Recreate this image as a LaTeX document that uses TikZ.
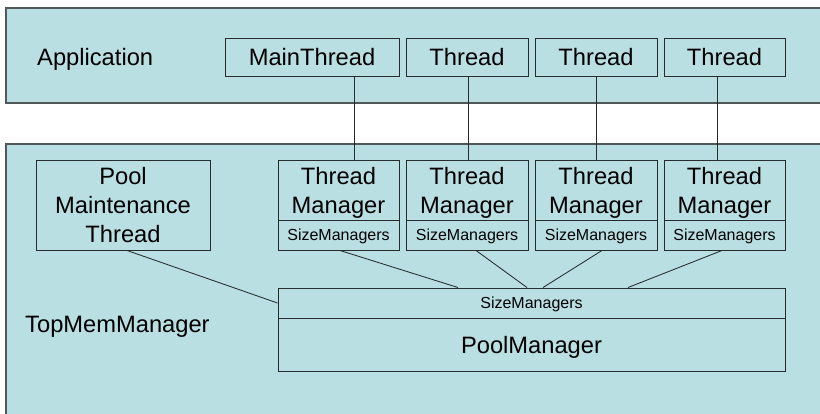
\documentclass[tikz,border=0pt]{standalone}
\usepackage{fontspec}
\setmainfont{Liberation Sans}
\usetikzlibrary{calc}
\definecolor{paneblue}{HTML}{B9DFE3}
\definecolor{paneedge}{HTML}{505858}
\definecolor{boxedge}{HTML}{262C2C}

\begin{document}
\begin{tikzpicture}[x=1pt,y=-1pt,
  big/.style={font=\fontsize{23.7}{29}\selectfont},
  small/.style={font=\fontsize{16}{19}\selectfont},
  pane/.style={draw=paneedge, fill=paneblue, line width=1.4pt},
  panelabel/.style={big, anchor=base west, inner sep=0pt},
  box/.style={rectangle, draw=boxedge, line width=0.95pt, inner sep=0pt,
              align=center, text depth=0pt},
  link/.style={draw=boxedge, line width=0.85pt}]
\useasboundingbox (0,0) rectangle (820,413);
\clip (0,0) rectangle (820,413);
\fill[white] (0,0) rectangle (820,413);

% the two layers
\draw[pane] (6,8) rectangle (845,103);
\draw[pane] (6,144) rectangle (845,445);
\node[panelabel] (applbl) at (37,65) {Application};
\node[panelabel] (toplbl) at (25,332) {TopMemManager};

% application threads
\node[box, big, minimum width=174, minimum height=38] (main) at (312,57) {MainThread};
\node[box, big, minimum width=122, minimum height=38] (th1) at (467,57) {Thread};
\node[box, big, minimum width=122, minimum height=38] (th2) at (596,57) {Thread};
\node[box, big, minimum width=121, minimum height=38] (th3) at (724.5,57) {Thread};

% pool maintenance thread
\node[box, big, minimum width=174, minimum height=90] (pool) at (123,205) {Pool\\Maintenance\\Thread};

% thread managers with their size managers
\node[box, big, minimum width=121, minimum height=60] (tm1) at (338.5,190) {Thread\\Manager};
\node[box, small, minimum width=121, minimum height=30] (tm1s) at (338.5,235) {SizeManagers};
\node[box, big, minimum width=122, minimum height=60] (tm2) at (467,190) {Thread\\Manager};
\node[box, small, minimum width=122, minimum height=30] (tm2s) at (467,235) {SizeManagers};
\node[box, big, minimum width=122, minimum height=60] (tm3) at (596,190) {Thread\\Manager};
\node[box, small, minimum width=122, minimum height=30] (tm3s) at (596,235) {SizeManagers};
\node[box, big, minimum width=121, minimum height=60] (tm4) at (724.5,190) {Thread\\Manager};
\node[box, small, minimum width=121, minimum height=30] (tm4s) at (724.5,235) {SizeManagers};

% pool manager with its size managers
\node[box, small, minimum width=507, minimum height=30] (bar) at (531.5,303) {SizeManagers};
\node[box, big, minimum width=507, minimum height=53] (pm) at (531.5,344.5) {PoolManager};

% columns of the vertical links
\coordinate (v0) at (354,0);
\coordinate (v1) at (468,0);
\coordinate (v2) at (596,0);
\coordinate (v3) at (717,0);
\draw[link] (v0 |- main.south) -- (v0 |- tm1.north);
\draw[link] (v1 |- th1.south) -- (v1 |- tm2.north);
\draw[link] (v2 |- th2.south) -- (v2 |- tm3.north);
\draw[link] (v3 |- th3.south) -- (v3 |- tm4.north);

% links down to the pool manager
\coordinate (s0) at (127,0);
\coordinate (s1) at (340,0);
\coordinate (s2) at (476,0);
\coordinate (s3) at (602,0);
\coordinate (s4) at (722,0);
\coordinate (e1) at (458,0);
\coordinate (e2) at (527,0);
\coordinate (e3) at (543,0);
\coordinate (e4) at (628,0);
\draw[link] (s0 |- pool.south) -- (bar.west);
\draw[link] (s1 |- tm1s.south) -- (e1 |- bar.north);
\draw[link] (s2 |- tm2s.south) -- (e2 |- bar.north);
\draw[link] (s3 |- tm3s.south) -- (e3 |- bar.north);
\draw[link] (s4 |- tm4s.south) -- (e4 |- bar.north);
\end{tikzpicture}
\end{document}
